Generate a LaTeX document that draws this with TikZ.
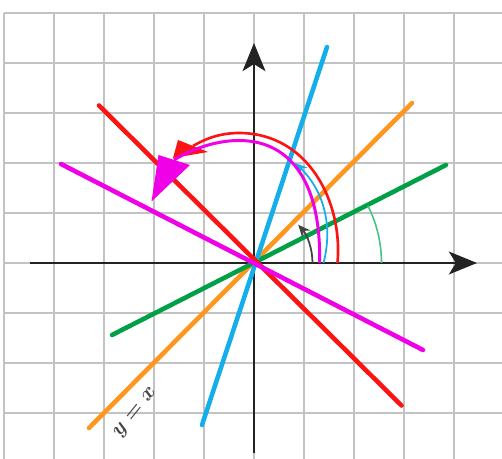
\documentclass[tikz,border=0pt]{standalone}
\usetikzlibrary{arrows.meta}
\definecolor{gridgray}{RGB}{195,195,195}
\definecolor{axisk}{RGB}{35,35,35}
\definecolor{lred}{RGB}{250,20,20}
\definecolor{lorange}{RGB}{255,150,30}
\definecolor{lgreen}{RGB}{0,160,70}
\definecolor{lblue}{RGB}{20,175,235}
\definecolor{lmag}{RGB}{240,0,230}
\definecolor{mint}{RGB}{70,195,130}
\definecolor{labelgray}{RGB}{70,70,70}
\begin{document}
\begin{tikzpicture}[x=1cm,y=1cm,
  gridline/.style={gridgray, line width=1.3pt},
  axisline/.style={axisk, line width=1.3pt, -{Stealth[length=16pt,width=13pt,inset=4pt]}},
  bigline/.style={line width=2.6pt, line cap=round},
  smallarc/.style={line width=1pt, -{Stealth[length=7pt,width=6pt]}},
  bigarc/.style={line width=1.5pt},
  eqlabel/.style={rotate=51, text=labelgray, font=\large\boldmath},
]
\useasboundingbox (-5.08,-3.92) rectangle (4.96,5.26);
\begin{scope}
  \clip (-5.08,-3.92) rectangle (4.96,5.26);
  \draw[gridline] (-5,-3.92) grid (5,5);
\end{scope}
\coordinate (O) at (0,0);
% axes
\coordinate (xs) at (-4.48,0);
\coordinate (xe) at (4.46,0);
\coordinate (ys) at (0,-3.8);
\coordinate (ye) at (0,4.4);
\draw[axisline] (xs) -- (xe);
\draw[axisline] (ys) -- (ye);
% lines
\coordinate (o1) at (-3.3,-3.3);   \coordinate (o2) at (3.16,3.2);
\coordinate (g1) at (-2.84,-1.44); \coordinate (g2) at (3.84,1.96);
\coordinate (b1) at (-1.04,-3.24); \coordinate (b2) at (1.46,4.32);
\coordinate (r1) at (-3.1,3.15);   \coordinate (r2) at (2.95,-2.85);
\coordinate (m1) at (-3.86,1.98);  \coordinate (m2) at (3.38,-1.74);
\draw[bigline, lorange] (o1) -- (o2);
\draw[bigline, lgreen] (g1) -- (g2);
\draw[bigline, lblue] (b1) -- (b2);
\draw[bigline, lred] (r1) -- (r2);
\draw[bigline, lmag] (m1) -- (m2);
% label
\node[eqlabel] (lab) at (-2.36,-3.0) {$y=x$};
% angle arcs
\draw[mint, line width=0.9pt] (2.55,0) arc[start angle=0, end angle=26.6, radius=2.55];
\draw[smallarc, axisk!85] (1.17,0) arc[start angle=0, end angle=41, radius=1.17];
\draw[smallarc, lblue] (1.39,0) .. controls (1.6,0.8) and (1.35,1.5) .. (0.82,2.0);
\draw[bigarc, lred] (1.67,0) .. controls (1.78,1.2) and (1.1,2.6) .. (-0.3,2.6)
  .. controls (-0.7,2.6) and (-1.0,2.47) .. (-1.22,2.34);
\fill[lred] (-1.52,2.46) -- (-0.92,2.22) -- (-1.62,2.10) -- cycle;
\draw[bigarc, lmag, line width=1.7pt] (1.31,0) .. controls (1.35,1.5) and (0.8,2.45) .. (-0.3,2.45)
  .. controls (-0.8,2.45) and (-1.3,2.25) .. (-1.6,2.06);
\fill[lmag] (-1.91,2.16) -- (-1.28,1.96) -- (-2.05,1.23) -- cycle;
\end{tikzpicture}
\end{document}
